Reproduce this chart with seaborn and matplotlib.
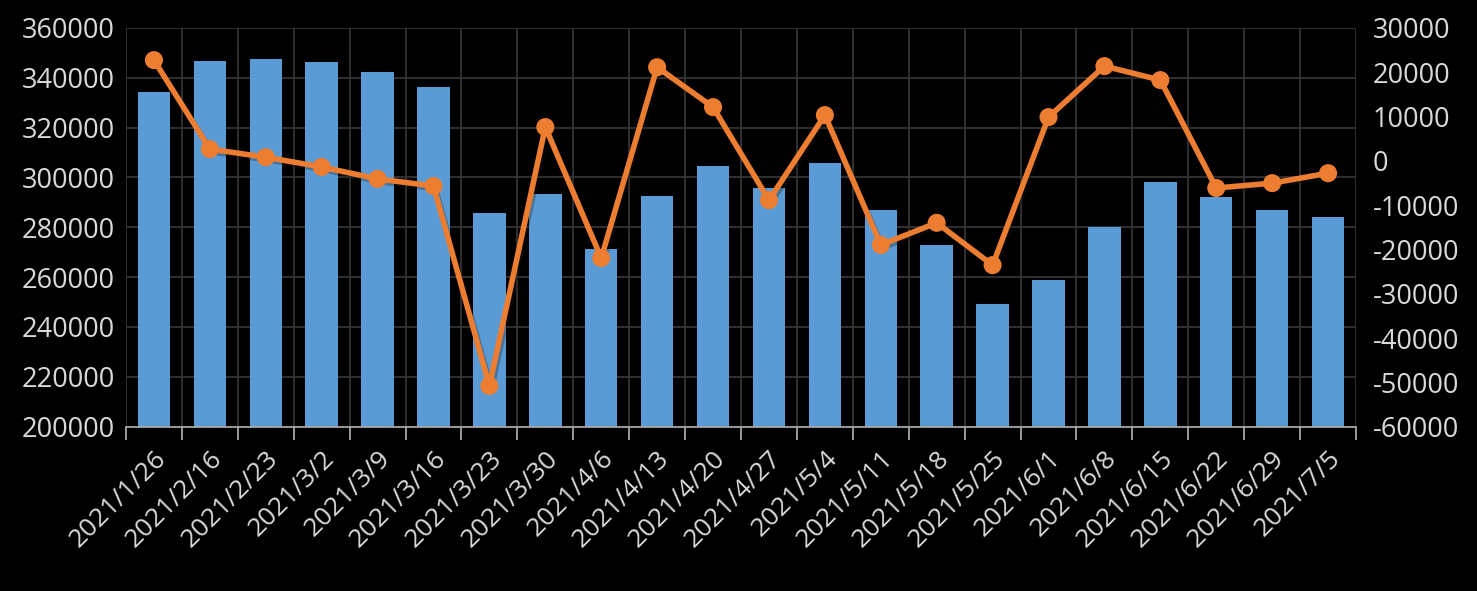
import matplotlib
matplotlib.use("Agg")
import matplotlib.pyplot as plt
import matplotlib.patheffects as pe
import seaborn as sns
import numpy as np
import pandas as pd

dates = ["2021/1/26", "2021/2/16", "2021/2/23", "2021/3/2", "2021/3/9", "2021/3/16",
         "2021/3/23", "2021/3/30", "2021/4/6", "2021/4/13", "2021/4/20", "2021/4/27",
         "2021/5/4", "2021/5/11", "2021/5/18", "2021/5/25", "2021/6/1", "2021/6/8",
         "2021/6/15", "2021/6/22", "2021/6/29", "2021/7/5"]
bar_values = [334200, 346650, 347450, 346250, 342250, 336200, 285700, 293300, 271250,
              292500, 304550, 295750, 305750, 286850, 272800, 249200, 258800, 280100,
              298100, 292050, 286850, 284050]
line_values = [22700, 2630, 800, -1400, -4100, -5700, -50800, 7600, -21950, 21100,
               12100, -8900, 10300, -19000, -14000, -23550, 9850, 21350, 18200, -6150,
               -5050, -2800]
left_ticks = [200000, 220000, 240000, 260000, 280000, 300000, 320000, 340000, 360000]
right_ticks = [-60000, -50000, -40000, -30000, -20000, -10000, 0, 10000, 20000, 30000]

df = pd.DataFrame({"date": dates, "bar": bar_values, "line": line_values,
                   "pos": np.arange(len(dates))})

sns.set_theme(style="dark")
plt.rcParams["font.family"] = ["Open Sans", "DejaVu Sans"]
BG = "black"
TXT = "#D9D9D9"
GRID = "#333333"

fig = plt.figure(figsize=(14.77, 5.91), dpi=100, facecolor=BG)
ax = fig.add_axes([0.0853, 0.278, 0.8328, 0.675])
ax.set_facecolor(BG)

sns.barplot(data=df, x="date", y="bar", color="#5B9BD5", saturation=1, width=0.58,
            ax=ax, zorder=2, edgecolor="none", linewidth=0)
n = len(dates)
ax.set_xlim(-0.5, n - 0.5)
ax.set_ylim(200000, 360000)
ax.set_yticks(left_ticks)
ax.set_yticklabels([str(t) for t in left_ticks])
ax.set_xlabel("")
ax.set_ylabel("")

ax.set_xticks(np.arange(n))
ax.set_xticklabels(dates, rotation=45, ha="right", rotation_mode="anchor")
ax.set_xticks(np.arange(-0.5, n, 1.0), minor=True)
ax.grid(False)
ax.yaxis.grid(True, color=GRID, linewidth=1.3, zorder=0)
ax.xaxis.grid(True, which="minor", color=GRID, linewidth=1.3, zorder=0)
ax.set_axisbelow(True)
ax.tick_params(axis="x", which="major", length=0, pad=14, labelsize=19, colors=TXT)
ax.tick_params(axis="x", which="minor", bottom=True, length=9, width=1.3,
               color="#A6A6A6", direction="out")
ax.tick_params(axis="y", length=0, labelsize=19.5, colors=TXT, pad=8)
for s in ["top", "right", "left"]:
    ax.spines[s].set_visible(False)
ax.spines["bottom"].set_color("#A6A6A6")
ax.spines["bottom"].set_linewidth(1.3)

ax2 = ax.twinx()
sns.lineplot(data=df, x="pos", y="line", color="#ED7D31", linewidth=4, marker="o",
             markersize=13, markeredgewidth=0, ax=ax2, zorder=3,
             path_effects=[pe.SimpleLineShadow(offset=(1.5, -2), alpha=0.3), pe.Normal()])
ax2.set_xlim(-0.5, n - 0.5)
ax2.set_ylim(-60000, 30000)
ax2.set_yticks(right_ticks)
ax2.set_yticklabels([str(t) for t in right_ticks])
ax2.set_ylabel("")
ax2.grid(False)
ax2.tick_params(axis="y", length=0, labelsize=19.5, colors=TXT, pad=12)
for s in ["top", "left", "bottom", "right"]:
    ax2.spines[s].set_visible(False)
ax2.set_facecolor("none")

fig.savefig("out.png", dpi=100, facecolor=BG)
